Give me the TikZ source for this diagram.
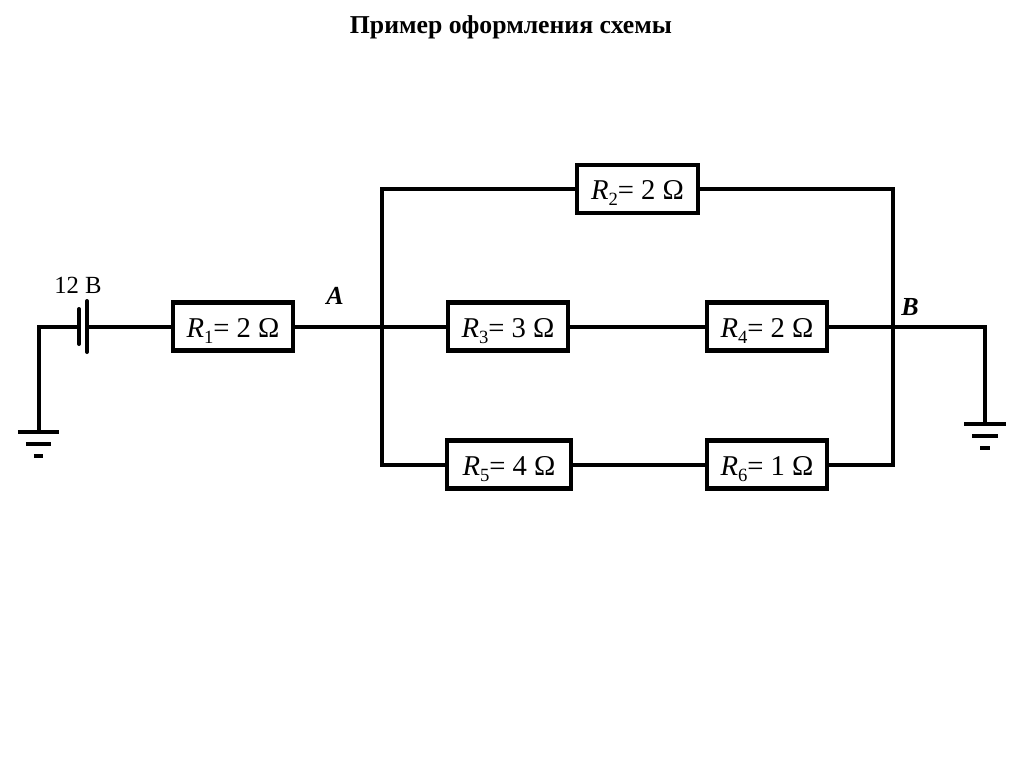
\documentclass[tikz,border=0pt]{standalone}
\usepackage{fontspec}
\setmainfont{Liberation Serif}
\tikzset{
  x=0.75pt,y=-0.75pt,
  wire/.style={line width=3pt,line cap=butt,line join=miter},
  thinbar/.style={line width=3pt},
  res/.style={draw,line width=3.2pt,minimum width=90.5pt,minimum height=36pt,inner sep=0pt,text height=16pt,text depth=0.2pt,font=\fontsize{21.5}{24}\selectfont,anchor=center},
  lab/.style={font=\fontsize{18.5}{20}\selectfont,inner sep=0pt},
  pt/.style={font=\fontsize{19.5}{20}\selectfont\bfseries\itshape,inner sep=0pt}
}
\newcommand{\rlab}[2]{\textit{R}\raisebox{-0.22em}{\fontsize{14}{14}\selectfont #1}= #2 Ω}
\begin{document}
\begin{tikzpicture}
\useasboundingbox (0,0) rectangle (1024,767);
\node[inner sep=0pt,font=\fontsize{19.3}{22}\selectfont\bfseries] (title) at (511,27) {Пример оформления схемы};
\node[res] (R1) at (233,326.5) {\rlab{1}{2}};
\node[res] (R2) at (637.5,189) {\rlab{2}{2}};
\node[res] (R3) at (508,326.5) {\rlab{3}{3}};
\node[res] (R4) at (767,326.5) {\rlab{4}{2}};
\node[res,minimum width=93pt] (R5) at (509,464.5) {\rlab{5}{4}};
\node[res] (R6) at (767,464.5) {\rlab{6}{1}};
\node[lab] (U) at (78,285) {12 В};
\node[pt] (A) at (335,296) {A};
\node[pt] (B) at (910,307) {B};
\coordinate (ja) at (382,326.5);
\coordinate (jb) at (893,326.5);
\coordinate (at) at (382,189);
\coordinate (ab) at (382,464.5);
\coordinate (bt) at (893,189);
\coordinate (bb) at (893,464.5);
\coordinate (p1t) at (79,309);
\coordinate (p1b) at (79,344);
\coordinate (p2t) at (87,301);
\coordinate (p2b) at (87,352);
\coordinate (p1m) at (79,326.5);
\coordinate (p2m) at (87,326.5);
\coordinate (gl) at (38.5,326.5);
\coordinate (gl0) at (38.5,432);
\coordinate (gr) at (985,326.5);
\coordinate (gr0) at (985,424);
% battery
\draw[wire,line cap=round] (p1t) -- (p1b);
\draw[wire,line cap=round] (p2t) -- (p2b);
% wires
\draw[wire] (p1m) -- (gl) -- (gl0);
\draw[wire] (p2m) -- (R1.west);
\draw[wire] (R1.east) -- (ja) -- (R3.west);
\draw[wire] (R2.west) -- (at) -- (ab) -- (R5.west);
\draw[wire] (R2.east) -- (bt) -- (bb) -- (R6.east);
\draw[wire] (R3.east) -- (R4.west);
\draw[wire] (R5.east) -- (R6.west);
\draw[wire] (R4.east) -- (jb) -- (gr) -- (gr0);
% grounds
\draw[thinbar] ([xshift=-15.4pt]gl0) -- ([xshift=15.4pt]gl0);
\draw[thinbar] ([xshift=-9.4pt,yshift=-9pt]gl0) -- ([xshift=9.4pt,yshift=-9pt]gl0);
\draw[thinbar] ([xshift=-3.4pt,yshift=-18pt]gl0) -- ([xshift=3.4pt,yshift=-18pt]gl0);
\draw[thinbar] ([xshift=-15.4pt]gr0) -- ([xshift=15.4pt]gr0);
\draw[thinbar] ([xshift=-9.4pt,yshift=-9pt]gr0) -- ([xshift=9.4pt,yshift=-9pt]gr0);
\draw[thinbar] ([xshift=-3.4pt,yshift=-18pt]gr0) -- ([xshift=3.4pt,yshift=-18pt]gr0);
\end{tikzpicture}
\end{document}
